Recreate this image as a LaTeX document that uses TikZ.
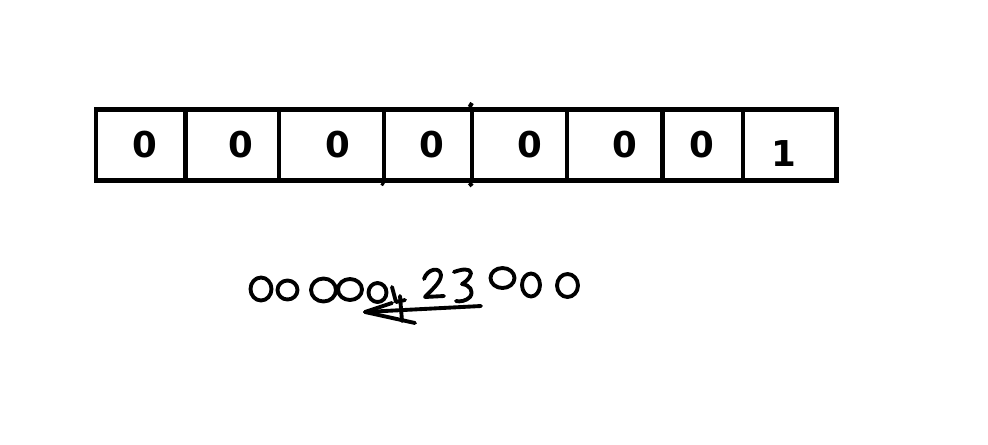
\documentclass[tikz,border=0pt]{standalone}
\usepackage{fontspec}
\newfontfamily\digitfont{DejaVu Sans}
\begin{document}
\begin{tikzpicture}[x=0.75pt,y=-0.75pt,
  cell/.style={draw=black,line width=3.7pt,rectangle,inner sep=0pt,minimum height=53.25pt},
  digit/.style={inner sep=0pt,font=\digitfont\bfseries\fontsize{26.7}{30}\selectfont},
  hand/.style={line width=2.9pt,line cap=round,line join=round}]
\useasboundingbox[fill=white] (0,0) rectangle (988,444);
% cells
\foreach \n/\a/\b in {c1/96/185.5,c2/185.5/279,c3/279/384,c4/384/472,c5/472/567,c6/567/662.5,c7/662.5/743,c8/743/836.5}{
  \node[cell,minimum width={(\b-\a)*0.75pt}] (\n) at ({(\a+\b)/2},145) {};
}
% small overshoots of dividers
\coordinate (o1) at (472,103);
\coordinate (o2) at (472,186);
\coordinate (o3) at (384,184.5);
\draw[line width=3pt] (o1) -- (c5.north west);
\draw[line width=3pt] (c5.south west) -- (o2);
\draw[line width=3pt] (c4.south west) -- (o3);
% digits
\node[digit] (d1) at (145,145) {0};
\node[digit] (d2) at (241,145) {0};
\node[digit] (d3) at (337.5,145) {0};
\node[digit] (d4) at (432,145) {0};
\node[digit] (d5) at (530,145) {0};
\node[digit] (d6) at (625,145) {0};
\node[digit] (d7) at (702,145) {0};
\node[digit] (d8) at (784,154) {1};
% handwritten line
\draw[hand] (261,289) ellipse [x radius=10.5, y radius=11.5];
\draw[hand] (287.5,290) ellipse [x radius=10, y radius=9.5];
\draw[hand] (323.5,290) ellipse [x radius=12.5, y radius=11.5];
\draw[hand] (350,289.5) ellipse [x radius=12, y radius=10.5];
\draw[hand] (377.5,292.5) ellipse [x radius=9, y radius=9.5];
% "1"
\draw[hand] (392,287) -- (396,302) -- (405,300);
% arrow and cross stroke
\draw[hand] (481,306) -- (365,312);
\draw[hand] (392,303) -- (365,312) -- (415,323);
\draw[hand] (400,296) -- (402,321);
% "2"
\draw[hand] (424,279) .. controls (427,269) and (440,266) .. (441,275) .. controls (441,283) and (430,291) .. (425,297) -- (444,296);
% "3"
\draw[hand] (454,272) .. controls (462,269) and (470,268) .. (471,273) .. controls (470,279) and (465,282) .. (462,284) .. controls (470,285) and (474,291) .. (470,297) .. controls (466,301) and (460,302) .. (456,301);
% trailing zeros
\draw[hand] (502.5,278) ellipse [x radius=12, y radius=10];
\draw[hand] (531,285) ellipse [x radius=9, y radius=11.5];
\draw[hand] (567.5,285.5) ellipse [x radius=10.5, y radius=11.5];
\end{tikzpicture}
\end{document}
